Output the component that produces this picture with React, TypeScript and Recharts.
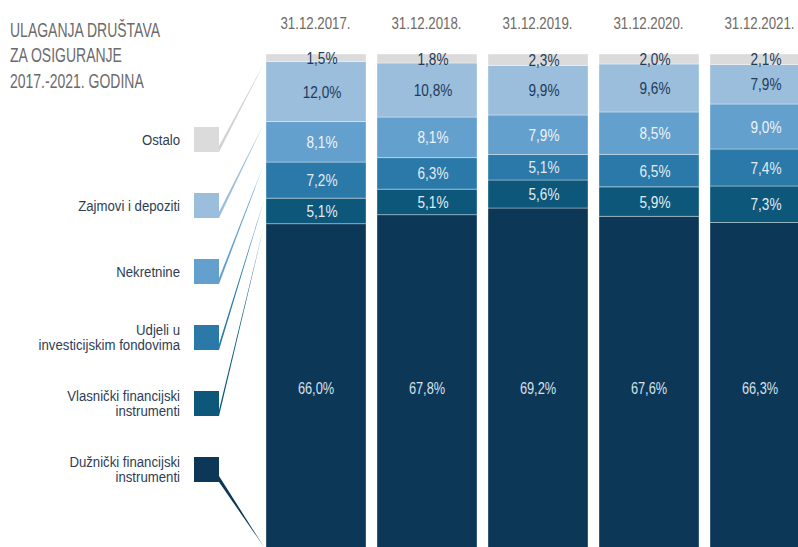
import React from "react";
import { Bar, BarChart, LabelList, XAxis, YAxis } from "recharts";

const years = ["31.12.2017.", "31.12.2018.", "31.12.2019.", "31.12.2020.", "31.12.2021."];
const duznicki = [66.0, 67.8, 69.2, 67.6, 66.3];
const vlasnicki = [5.1, 5.1, 5.6, 5.9, 7.3];
const udjeli = [7.2, 6.3, 5.1, 6.5, 7.4];
const nekretnine = [8.1, 8.1, 7.9, 8.5, 9.0];
const zajmovi = [12.0, 10.8, 9.9, 9.6, 7.9];
const ostalo = [1.5, 1.8, 2.3, 2.0, 2.1];

const titleLines = ["ULAGANJA DRUŠTAVA", "ZA OSIGURANJE", "2017.-2021. GODINA"];

// stacked bottom -> top
const series = [
  { key: "duznicki", name: ["Dužnički financijski", "instrumenti"], values: duznicki, color: "#0c3757", text: "#d6e1eb" },
  { key: "vlasnicki", name: ["Vlasnički financijski", "instrumenti"], values: vlasnicki, color: "#0c577a", text: "#e3ebf2" },
  { key: "udjeli", name: ["Udjeli u", "investicijskim fondovima"], values: udjeli, color: "#2a79a9", text: "#e3ebf2" },
  { key: "nekretnine", name: ["Nekretnine"], values: nekretnine, color: "#64a0ce", text: "#eef3f8" },
  { key: "zajmovi", name: ["Zajmovi i depoziti"], values: zajmovi, color: "#9bbedc", text: "#1e3a5a" },
  { key: "ostalo", name: ["Ostalo"], values: ostalo, color: "#dadbda", text: "#1e3a5a" },
];

const data = years.map((y, i) => {
  const row: Record<string, string | number> = { year: y };
  series.forEach((s) => (row[s.key] = s.values[i]));
  return row;
});

const FONT = "'Liberation Sans', Arial, sans-serif";
const W = 815;
const H = 554;
const PLOT_TOP = 54;
const PLOT_LEFT = 260;
const BIG_LABEL_Y = 388;

const fmt = (v: number) => `${v.toFixed(1).replace(".", ",")}%`;

// no narrow font installed, so squeeze the text horizontally
function CText({ x, y, sx = 0.82, size, fill, anchor = "middle", children }: any) {
  return (
    <text
      transform={`translate(${x},${y}) scale(${sx},1)`}
      x={0}
      y={0}
      textAnchor={anchor}
      dominantBaseline="central"
      fill={fill}
      fontSize={size}
      fontFamily={FONT}
    >
      {children}
    </text>
  );
}

const makeLabel = (vals: number[], color: string, dx: number, size: number, fixedY?: number) =>
  (props: any) => {
    const vb = props.viewBox ?? props;
    const x = vb.x + vb.width / 2 + dx;
    const y = fixedY ?? vb.y + vb.height / 2;
    return (
      <CText x={x} y={y} sx={0.8} size={size} fill={color}>
        {fmt(vals[props.index])}
      </CText>
    );
  };

const DateTick = (props: any) => (
  <CText x={props.x} y={24} sx={0.83} size={16} fill="#706a66">
    {props.payload.value}
  </CText>
);

function Overlay() {
  // leader lines go to the first bar's segments
  const first = series.map((s) => s.values[0]);
  const total = first.reduce((a, b) => a + b, 0);
  const plotH = H - PLOT_TOP;
  let below = 0;
  const ends = series.map((s, i) => {
    const bottom = PLOT_TOP + plotH * (1 - below / total);
    below += first[i];
    return Math.min(bottom + 2, 547);
  });
  const legend = [...series].reverse();
  const endsTopDown = [...ends].reverse();
  return (
    <svg width={798} height={547} style={{ position: "absolute", left: 0, top: 0 }}>
      {titleLines.map((t, i) => (
        <text
          key={t}
          transform={`translate(10,${37 + i * 25.3}) scale(0.7,1)`}
          fill="#6b6b6d"
          fontSize={20}
          fontFamily={FONT}
        >
          {t}
        </text>
      ))}
      {legend.map((s, i) => {
        const top = 127 + i * 66;
        const cy = top + 12.5;
        const yb = top + 25;
        const ye = endsTopDown[i];
        const lineColor = s.key === "ostalo" ? "#d2d2d2" : s.color;
        return (
          <g key={s.key}>
            <polygon points={`219,${yb} 219,${yb - 6} 264,${ye}`} fill={lineColor} />
            <rect x={194} y={top} width={25} height={25} fill={s.color} />
            {s.name.map((ln, j) => (
              <CText
                key={ln}
                x={180}
                y={cy + (j - (s.name.length - 1) / 2) * 15}
                sx={0.88}
                anchor="end"
                size={15}
                fill="#2e3d55"
              >
                {ln}
              </CText>
            ))}
          </g>
        );
      })}
    </svg>
  );
}

export default function App() {
  return (
    <div style={{ position: "absolute", left: 0, top: 0, width: 798, height: 547, overflow: "hidden", background: "#fff" }}>
      <Overlay />
      <div style={{ position: "absolute", left: 0, top: 0 }}>
        <BarChart
          width={W}
          height={H}
          data={data}
          stackOffset="expand"
          margin={{ top: 0, right: 0, bottom: 0, left: PLOT_LEFT }}
        >
          <XAxis
            dataKey="year"
            orientation="top"
            height={PLOT_TOP}
            axisLine={false}
            tickLine={false}
            interval={0}
            tick={<DateTick />}
          />
          <YAxis hide domain={[0, 1]} />
          {series.map((s) => (
            <Bar
              key={s.key}
              dataKey={s.key}
              stackId="a"
              fill={s.color}
              stroke="#ffffff"
              strokeOpacity={0.35}
              strokeWidth={1}
              barSize={100}
              isAnimationActive={false}
            >
              <LabelList
                dataKey={s.key}
                content={makeLabel(
                  s.values,
                  s.text,
                  s.key === "duznicki" ? 0 : 6,
                  s.key === "duznicki" ? 16 : 17,
                  s.key === "duznicki" ? BIG_LABEL_Y : undefined
                )}
              />
            </Bar>
          ))}
        </BarChart>
      </div>
    </div>
  );
}
